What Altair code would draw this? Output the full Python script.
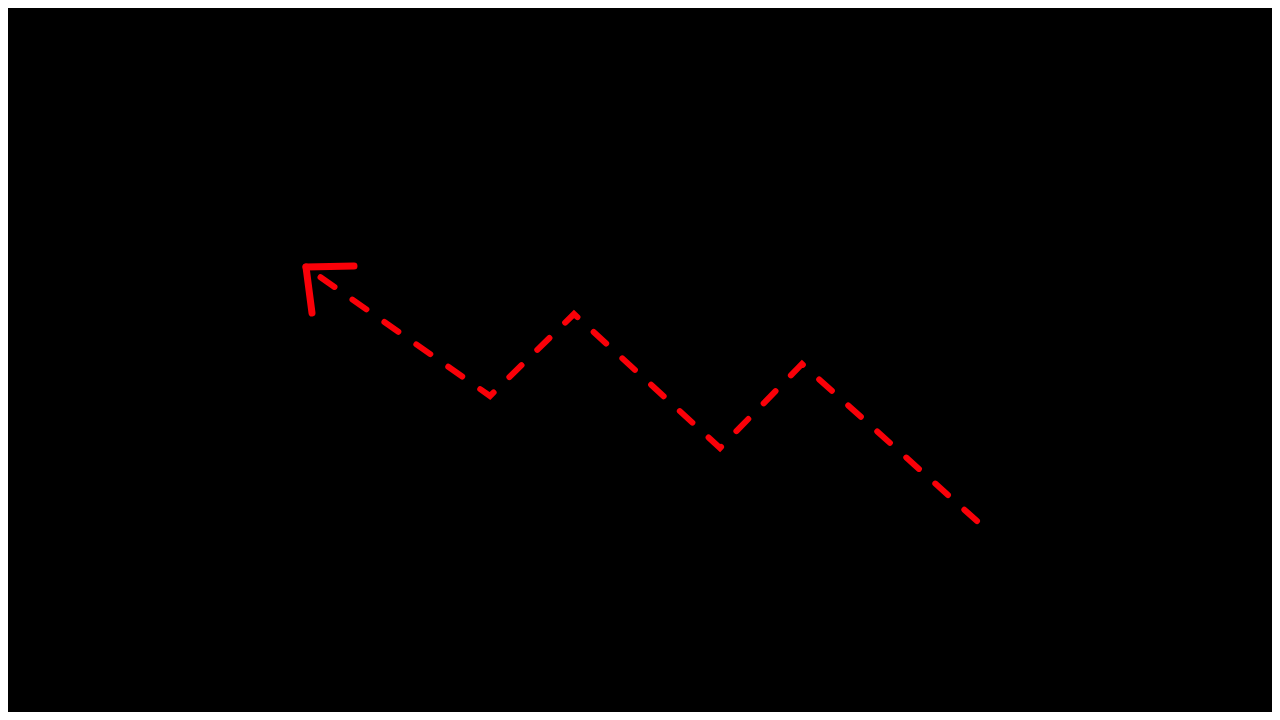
import altair as alt
import pandas as pd

# path of the dashed zigzag (data units: x right, y up), drawn from the tail to the arrow tip
path_x = [969, 794, 712, 566, 482, 298]
path_y = [191, 348, 264, 398, 316, 445]

# arrowhead arms from the tip
head_x = [298, 298]
head_y = [445, 445]
head_x2 = [346, 304]
head_y2 = [446, 399]

RED = "#fa0008"

line_df = pd.DataFrame({"x": path_x, "y": path_y, "i": list(range(len(path_x)))})
head_df = pd.DataFrame({"x": head_x, "y": head_y, "x2": head_x2, "y2": head_y2})

xs = alt.Scale(domain=[0, 1264], nice=False, zero=False)
ys = alt.Scale(domain=[0, 704], nice=False, zero=False)

line = alt.Chart(line_df).mark_line(
    color=RED, strokeWidth=6, strokeDash=[17, 22], strokeCap="round"
).encode(
    x=alt.X("x:Q", scale=xs, axis=None),
    y=alt.Y("y:Q", scale=ys, axis=None),
    order="i:Q",
)

head = alt.Chart(head_df).mark_rule(
    color=RED, strokeWidth=7, strokeCap="round"
).encode(
    x=alt.X("x:Q", scale=xs, axis=None),
    y=alt.Y("y:Q", scale=ys, axis=None),
    x2="x2:Q",
    y2="y2:Q",
)

chart = alt.layer(line, head).properties(
    width=1264, height=704, padding=0, background="black",
    autosize=alt.AutoSizeParams(type="none"),
).configure_view(stroke=None, fill="black")

chart.save("out.html", embed_options={"renderer": "svg", "actions": False})
